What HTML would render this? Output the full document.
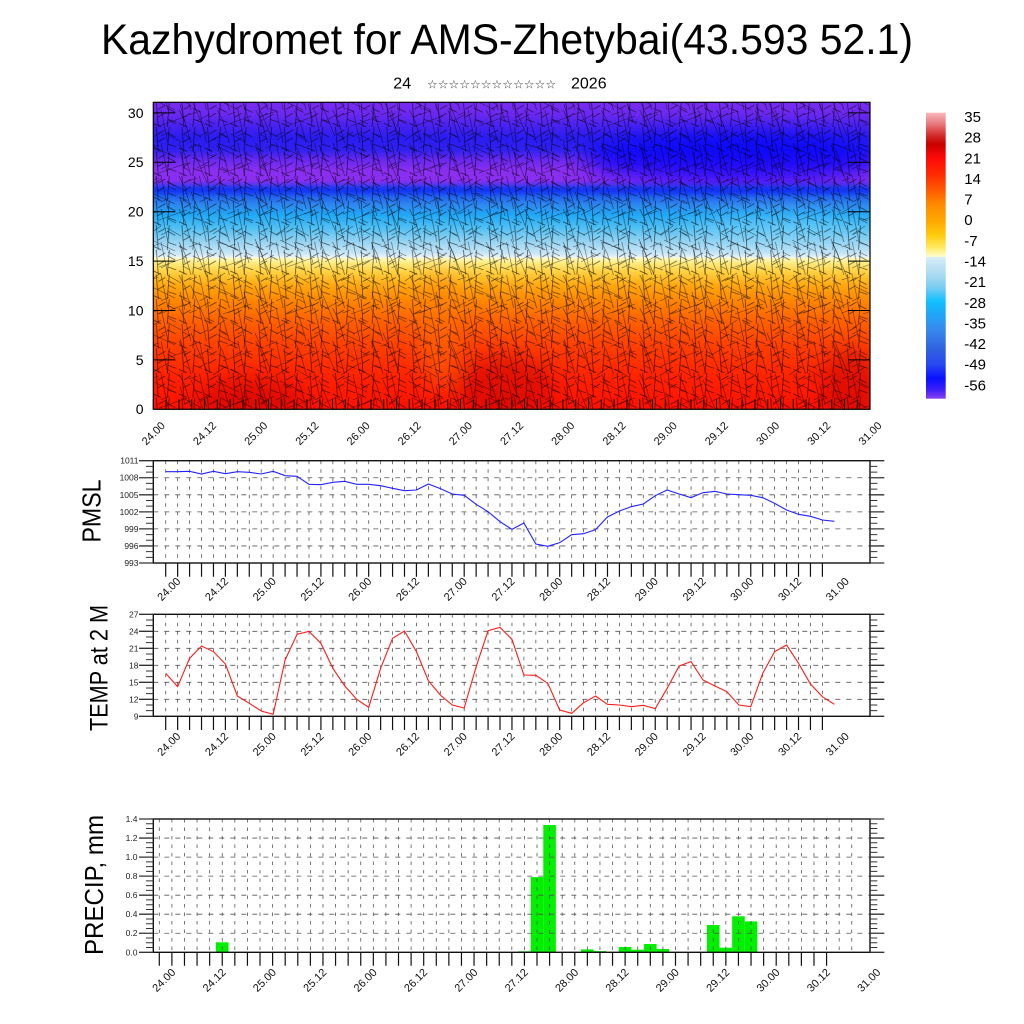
<!DOCTYPE html>
<html><head><meta charset="utf-8">
<style>
html,body{margin:0;padding:0;background:#fff;}
svg{display:block;font-family:"Liberation Sans","DejaVu Sans",sans-serif;}
.xl text{font-size:11px;text-anchor:middle;fill:#111;}
.yl text{font-size:8.5px;text-anchor:end;fill:#222;}
</style></head>
<body>
<svg width="1024" height="1024" viewBox="0 0 1024 1024" xmlns="http://www.w3.org/2000/svg">
<defs>
<linearGradient id="field" gradientUnits="userSpaceOnUse" x1="0" y1="102.3" x2="0" y2="409.3">
<stop offset="0" stop-color="#7a2cf0"/>
<stop offset="0.041" stop-color="#6a28f0"/>
<stop offset="0.074" stop-color="#4a22f0"/>
<stop offset="0.116" stop-color="#2a1cf2"/>
<stop offset="0.155" stop-color="#3020f0"/>
<stop offset="0.188" stop-color="#6a28f0"/>
<stop offset="0.221" stop-color="#8a2ef0"/>
<stop offset="0.253" stop-color="#8a2ef0"/>
<stop offset="0.272" stop-color="#5a38f0"/>
<stop offset="0.285" stop-color="#1030ff"/>
<stop offset="0.305" stop-color="#2060f0"/>
<stop offset="0.334" stop-color="#2e88f0"/>
<stop offset="0.367" stop-color="#20a8f6"/>
<stop offset="0.409" stop-color="#50c0f4"/>
<stop offset="0.455" stop-color="#98d4f2"/>
<stop offset="0.491" stop-color="#c8e6f6"/>
<stop offset="0.504" stop-color="#e8f4f8"/>
<stop offset="0.507" stop-color="#fffac8"/>
<stop offset="0.523" stop-color="#ffec80"/>
<stop offset="0.553" stop-color="#ffd040"/>
<stop offset="0.596" stop-color="#ffa810"/>
<stop offset="0.645" stop-color="#ff8800"/>
<stop offset="0.71" stop-color="#ff6200"/>
<stop offset="0.791" stop-color="#ff4000"/>
<stop offset="0.889" stop-color="#ff2400"/>
<stop offset="1" stop-color="#ff1000"/>
</linearGradient>
<linearGradient id="cbar" gradientUnits="userSpaceOnUse" x1="0" y1="112.7" x2="0" y2="398.7">
<stop offset="0" stop-color="#f7b8bc"/>
<stop offset="0.04" stop-color="#e8777c"/>
<stop offset="0.08" stop-color="#d42a2a"/>
<stop offset="0.11" stop-color="#c80000"/>
<stop offset="0.16" stop-color="#ff0a0a"/>
<stop offset="0.22" stop-color="#ff2e00"/>
<stop offset="0.27" stop-color="#ff5a00"/>
<stop offset="0.32" stop-color="#ff8a00"/>
<stop offset="0.38" stop-color="#ffa800"/>
<stop offset="0.43" stop-color="#ffcc10"/>
<stop offset="0.47" stop-color="#ffe860"/>
<stop offset="0.503" stop-color="#fffcd0"/>
<stop offset="0.506" stop-color="#d6ecf8"/>
<stop offset="0.56" stop-color="#b0dcf2"/>
<stop offset="0.61" stop-color="#7cccf0"/>
<stop offset="0.66" stop-color="#10c0ff"/>
<stop offset="0.70" stop-color="#20a8f8"/>
<stop offset="0.76" stop-color="#3888ee"/>
<stop offset="0.83" stop-color="#3060e0"/>
<stop offset="0.88" stop-color="#2848f0"/>
<stop offset="0.93" stop-color="#0a10ff"/>
<stop offset="0.97" stop-color="#4020f8"/>
<stop offset="1" stop-color="#8a40f0"/>
</linearGradient>
<pattern id="bA" patternUnits="userSpaceOnUse" x="153.3" y="102.3" width="25.6" height="24.6">
<path d="M3 0L5 24.6M5 7L12 3M4.5 15L11.5 11M16 0L14 24.6M14 6L22 10M14.5 17L23 20M0 21L8 24.6" stroke="#000" stroke-width="0.7" stroke-opacity="0.7" fill="none"/>
</pattern>
<pattern id="bB" patternUnits="userSpaceOnUse" x="159" y="110" width="38.4" height="33">
<path d="M2 0L9 33M9 10L17 14M20 0L26 12L32 33M30 5L38 2M10 22L2 26M24 24L31 28" stroke="#000" stroke-width="0.6" stroke-opacity="0.6" fill="none"/>
</pattern>
<pattern id="bC" patternUnits="userSpaceOnUse" x="147" y="96" width="64" height="47">
<path d="M5 3L28 14M12 30L40 20M44 2L60 40M50 25L63 18M20 38L34 46M2 44L14 36M33 8L38 26" stroke="#000" stroke-width="0.6" stroke-opacity="0.55" fill="none"/>
</pattern>
<filter id="blur" x="-20%" y="-20%" width="140%" height="140%"><feGaussianBlur stdDeviation="10"/></filter>
<filter id="blur2" x="-5%" y="-100%" width="110%" height="300%"><feGaussianBlur stdDeviation="2"/></filter>
<clipPath id="cp"><rect x="153.3" y="102.3" width="716.7" height="307"/></clipPath>
</defs>

<rect width="1024" height="1024" fill="#fff"/>

<!-- Titles -->
<text x="507" y="54" text-anchor="middle" font-size="43" textLength="812" lengthAdjust="spacingAndGlyphs" fill="#000">Kazhydromet for AMS-Zhetybai(43.593 52.1)</text>
<text x="393.3" y="88.5" font-size="16" fill="#000">24</text>
<text x="427" y="88.5" font-size="12" fill="#333" font-family="DejaVu Sans, sans-serif">☆☆☆☆☆☆☆☆☆☆☆☆</text>
<text x="571" y="88.5" font-size="16" fill="#000">2026</text>

<!-- Top panel -->
<g clip-path="url(#cp)">
<rect x="153.3" y="102.3" width="716.7" height="307" fill="url(#field)"/>
<g filter="url(#blur)">
<ellipse cx="735" cy="158" rx="150" ry="24" fill="#0808ff" opacity="0.75"/>
<ellipse cx="250" cy="400" rx="55" ry="22" fill="#c80000" opacity="0.5"/>
<ellipse cx="505" cy="388" rx="50" ry="32" fill="#c80000" opacity="0.5"/>
<ellipse cx="850" cy="385" rx="30" ry="35" fill="#c80000" opacity="0.5"/>
<ellipse cx="440" cy="330" rx="20" ry="60" fill="#ff8000" opacity="0.4"/>
<ellipse cx="780" cy="230" rx="90" ry="15" fill="#80d8ff" opacity="0.4"/>
</g>
<rect x="153.3" y="186" width="716.7" height="6" fill="#1838f0" opacity="0.8" filter="url(#blur2)"/>
<rect x="153.3" y="102.3" width="716.7" height="307" fill="url(#bA)"/>
<rect x="153.3" y="102.3" width="716.7" height="307" fill="url(#bB)"/>
<rect x="153.3" y="102.3" width="716.7" height="307" fill="url(#bC)"/>
</g>
<rect x="153.3" y="102.3" width="716.7" height="307" fill="none" stroke="#000" stroke-width="1.2"/>
<path d="M153.3 409.3v-10m12.8 10v-10m12.8 10v-10m12.8 10v-10m12.8 10v-10m12.8 10v-10m12.8 10v-10m12.8 10v-10m12.8 10v-10m12.8 10v-10m12.8 10v-10m12.8 10v-10m12.8 10v-10m12.8 10v-10m12.8 10v-10m12.8 10v-10m12.8 10v-10m12.8 10v-10m12.8 10v-10m12.8 10v-10m12.8 10v-10m12.8 10v-10m12.8 10v-10m12.8 10v-10m12.8 10v-10m12.8 10v-10m12.8 10v-10m12.8 10v-10m12.8 10v-10m12.8 10v-10m12.8 10v-10m12.8 10v-10m12.8 10v-10m12.8 10v-10m12.8 10v-10m12.8 10v-10m12.8 10v-10m12.8 10v-10m12.8 10v-10m12.8 10v-10m12.8 10v-10m12.8 10v-10m12.8 10v-10m12.8 10v-10m12.8 10v-10m12.8 10v-10m12.8 10v-10m12.8 10v-10m12.8 10v-10m12.8 10v-10m12.8 10v-10m12.8 10v-10m12.8 10v-10m12.8 10v-10m12.8 10v-10m12.8 10v-10" stroke="#000" stroke-width="1" fill="none"/>
<path d="M153.3 112.9h22M153.3 162.3h22M153.3 211.7h22M153.3 261.1h22M153.3 310.5h22M153.3 359.9h22M870 112.9h-22M870 162.3h-22M870 211.7h-22M870 261.1h-22M870 310.5h-22M870 359.9h-22" stroke="#000" stroke-width="1" fill="none"/>
<g font-size="14" text-anchor="end" fill="#000">
<text x="143.5" y="112.9" dy="0.35em">30</text>
<text x="143.5" y="162.3" dy="0.35em">25</text>
<text x="143.5" y="211.7" dy="0.35em">20</text>
<text x="143.5" y="261.1" dy="0.35em">15</text>
<text x="143.5" y="310.5" dy="0.35em">10</text>
<text x="143.5" y="359.9" dy="0.35em">5</text>
<text x="143.5" y="409.3" dy="0.35em">0</text>
</g>
<g class="xl">
<text transform="translate(153.3 433.3) rotate(-45)" dy="0.35em">24.00</text>
<text transform="translate(204.5 433.3) rotate(-45)" dy="0.35em">24.12</text>
<text transform="translate(255.7 433.3) rotate(-45)" dy="0.35em">25.00</text>
<text transform="translate(306.9 433.3) rotate(-45)" dy="0.35em">25.12</text>
<text transform="translate(358.1 433.3) rotate(-45)" dy="0.35em">26.00</text>
<text transform="translate(409.3 433.3) rotate(-45)" dy="0.35em">26.12</text>
<text transform="translate(460.4 433.3) rotate(-45)" dy="0.35em">27.00</text>
<text transform="translate(511.6 433.3) rotate(-45)" dy="0.35em">27.12</text>
<text transform="translate(562.8 433.3) rotate(-45)" dy="0.35em">28.00</text>
<text transform="translate(614.0 433.3) rotate(-45)" dy="0.35em">28.12</text>
<text transform="translate(665.2 433.3) rotate(-45)" dy="0.35em">29.00</text>
<text transform="translate(716.4 433.3) rotate(-45)" dy="0.35em">29.12</text>
<text transform="translate(767.6 433.3) rotate(-45)" dy="0.35em">30.00</text>
<text transform="translate(818.8 433.3) rotate(-45)" dy="0.35em">30.12</text>
<text transform="translate(870.0 433.3) rotate(-45)" dy="0.35em">31.00</text>
</g>

<!-- Colorbar -->
<rect x="926" y="112.7" width="19.7" height="286" fill="url(#cbar)"/>
<g font-size="15" fill="#000">
<text x="964.3" y="116.7" dy="0.35em">35</text>
<text x="964.3" y="137.3" dy="0.35em">28</text>
<text x="964.3" y="158.0" dy="0.35em">21</text>
<text x="964.3" y="178.6" dy="0.35em">14</text>
<text x="964.3" y="199.3" dy="0.35em">7</text>
<text x="964.3" y="219.9" dy="0.35em">0</text>
<text x="964.3" y="240.5" dy="0.35em">-7</text>
<text x="964.3" y="261.2" dy="0.35em">-14</text>
<text x="964.3" y="281.8" dy="0.35em">-21</text>
<text x="964.3" y="302.5" dy="0.35em">-28</text>
<text x="964.3" y="323.1" dy="0.35em">-35</text>
<text x="964.3" y="343.7" dy="0.35em">-42</text>
<text x="964.3" y="364.4" dy="0.35em">-49</text>
<text x="964.3" y="385.0" dy="0.35em">-56</text>
</g>

<!-- PMSL panel -->
<path d="M153.3 477.75H870M153.3 494.8H870M153.3 511.85H870M153.3 528.9H870M153.3 545.95H870" stroke="#555" stroke-width="0.8" stroke-dasharray="5 6" fill="none"/>
<path d="M165.7 460.7v102.3m11.94-102.3v102.3m11.94-102.3v102.3m11.94-102.3v102.3m11.94-102.3v102.3m11.94-102.3v102.3m11.94-102.3v102.3m11.94-102.3v102.3m11.94-102.3v102.3m11.94-102.3v102.3m11.94-102.3v102.3m11.94-102.3v102.3m11.94-102.3v102.3m11.94-102.3v102.3m11.94-102.3v102.3m11.94-102.3v102.3m11.94-102.3v102.3m11.94-102.3v102.3m11.94-102.3v102.3m11.94-102.3v102.3m11.94-102.3v102.3m11.94-102.3v102.3m11.94-102.3v102.3m11.94-102.3v102.3m11.94-102.3v102.3m11.94-102.3v102.3m11.94-102.3v102.3m11.94-102.3v102.3m11.94-102.3v102.3m11.94-102.3v102.3m11.94-102.3v102.3m11.94-102.3v102.3m11.94-102.3v102.3m11.94-102.3v102.3m11.94-102.3v102.3m11.94-102.3v102.3m11.94-102.3v102.3m11.94-102.3v102.3m11.94-102.3v102.3m11.94-102.3v102.3m11.94-102.3v102.3m11.94-102.3v102.3m11.94-102.3v102.3m11.94-102.3v102.3m11.94-102.3v102.3m11.94-102.3v102.3m11.94-102.3v102.3m11.94-102.3v102.3m11.94-102.3v102.3m11.94-102.3v102.3m11.94-102.3v102.3m11.94-102.3v102.3m11.94-102.3v102.3m11.94-102.3v102.3m11.94-102.3v102.3m11.94-102.3v102.3" stroke="#555" stroke-width="0.8" stroke-dasharray="3.5 5" fill="none"/>
<polyline transform="translate(165.7 455) scale(11.94 0.333333)" vector-effect="non-scaling-stroke" fill="none" stroke="#2222ff" stroke-width="1.1" points="0,50 1,50 2,49 3,57 4,49 5,56 6,50 7,52 8,57 9,49 10,62 11,64 12,88 13,89 14,82 15,79 16,88 17,88 18,92 19,100 20,107 21,105 22,87 23,101 24,117 25,121 26,148 27,170 28,200 29,223 30,204 31,267 32,274 33,263 34,239 35,236 36,224 37,186 38,168 39,155 40,147 41,122 42,105 43,117 44,128 45,113 46,109 47,117 48,119 49,121 50,128 51,145 52,165 53,178 54,184 55,195 56,199"/>
<rect x="153.3" y="460.7" width="716.7" height="102.3" fill="none" stroke="#111" stroke-width="1.4"/>
<path d="M139 460.7h14.3M139 477.75h14.3M139 494.8h14.3M139 511.85h14.3M139 528.9h14.3M139 545.95h14.3M139 563h14.3M870 460.7h14.3M870 477.75h14.3M870 494.8h14.3M870 511.85h14.3M870 528.9h14.3M870 545.95h14.3M870 563h14.3" stroke="#333" stroke-width="1.3" fill="none"/>
<path d="M146 466.38h7.3M146 472.07h7.3M146 483.43h7.3M146 489.12h7.3M146 500.48h7.3M146 506.17h7.3M146 517.53h7.3M146 523.22h7.3M146 534.58h7.3M146 540.27h7.3M146 551.63h7.3M146 557.32h7.3M870 466.38h7.3M870 472.07h7.3M870 483.43h7.3M870 489.12h7.3M870 500.48h7.3M870 506.17h7.3M870 517.53h7.3M870 523.22h7.3M870 534.58h7.3M870 540.27h7.3M870 551.63h7.3M870 557.32h7.3" stroke="#333" stroke-width="1" fill="none"/>
<path d="M165.7 563v13.7m11.94-13.7v13.7m11.94-13.7v13.7m11.94-13.7v13.7m11.94-13.7v13.7m11.94-13.7v13.7m11.94-13.7v13.7m11.94-13.7v13.7m11.94-13.7v13.7m11.94-13.7v13.7m11.94-13.7v13.7m11.94-13.7v13.7m11.94-13.7v13.7m11.94-13.7v13.7m11.94-13.7v13.7m11.94-13.7v13.7m11.94-13.7v13.7m11.94-13.7v13.7m11.94-13.7v13.7m11.94-13.7v13.7m11.94-13.7v13.7m11.94-13.7v13.7m11.94-13.7v13.7m11.94-13.7v13.7m11.94-13.7v13.7m11.94-13.7v13.7m11.94-13.7v13.7m11.94-13.7v13.7m11.94-13.7v13.7m11.94-13.7v13.7m11.94-13.7v13.7m11.94-13.7v13.7m11.94-13.7v13.7m11.94-13.7v13.7m11.94-13.7v13.7m11.94-13.7v13.7m11.94-13.7v13.7m11.94-13.7v13.7m11.94-13.7v13.7m11.94-13.7v13.7m11.94-13.7v13.7m11.94-13.7v13.7m11.94-13.7v13.7m11.94-13.7v13.7m11.94-13.7v13.7m11.94-13.7v13.7m11.94-13.7v13.7m11.94-13.7v13.7m11.94-13.7v13.7m11.94-13.7v13.7m11.94-13.7v13.7m11.94-13.7v13.7m11.94-13.7v13.7m11.94-13.7v13.7m11.94-13.7v13.7m11.94-13.7v13.7" stroke="#111" stroke-width="1.2" fill="none"/>
<g class="yl">
<text x="138.5" y="460.7" dy="0.35em">1011</text>
<text x="138.5" y="477.75" dy="0.35em">1008</text>
<text x="138.5" y="494.8" dy="0.35em">1005</text>
<text x="138.5" y="511.85" dy="0.35em">1002</text>
<text x="138.5" y="528.9" dy="0.35em">999</text>
<text x="138.5" y="545.95" dy="0.35em">996</text>
<text x="138.5" y="563" dy="0.35em">993</text>
</g>
<g class="xl">
<text transform="translate(168.7 589) rotate(-45)" dy="0.35em">24.00</text>
<text transform="translate(216.5 589) rotate(-45)" dy="0.35em">24.12</text>
<text transform="translate(264.2 589) rotate(-45)" dy="0.35em">25.00</text>
<text transform="translate(312.0 589) rotate(-45)" dy="0.35em">25.12</text>
<text transform="translate(359.7 589) rotate(-45)" dy="0.35em">26.00</text>
<text transform="translate(407.5 589) rotate(-45)" dy="0.35em">26.12</text>
<text transform="translate(455.3 589) rotate(-45)" dy="0.35em">27.00</text>
<text transform="translate(503.0 589) rotate(-45)" dy="0.35em">27.12</text>
<text transform="translate(550.8 589) rotate(-45)" dy="0.35em">28.00</text>
<text transform="translate(598.5 589) rotate(-45)" dy="0.35em">28.12</text>
<text transform="translate(646.3 589) rotate(-45)" dy="0.35em">29.00</text>
<text transform="translate(694.1 589) rotate(-45)" dy="0.35em">29.12</text>
<text transform="translate(741.8 589) rotate(-45)" dy="0.35em">30.00</text>
<text transform="translate(789.6 589) rotate(-45)" dy="0.35em">30.12</text>
<text transform="translate(837.3 589) rotate(-45)" dy="0.35em">31.00</text>
</g>
<text transform="translate(100.5 511) rotate(-90)" text-anchor="middle" font-size="26" textLength="63" lengthAdjust="spacingAndGlyphs" fill="#000">PMSL</text>

<!-- TEMP panel -->
<path d="M153.3 631.3H870M153.3 648.3H870M153.3 665.3H870M153.3 682.3H870M153.3 699.3H870" stroke="#555" stroke-width="0.8" stroke-dasharray="5 6" fill="none"/>
<path d="M165.7 614.3v102m11.94-102v102m11.94-102v102m11.94-102v102m11.94-102v102m11.94-102v102m11.94-102v102m11.94-102v102m11.94-102v102m11.94-102v102m11.94-102v102m11.94-102v102m11.94-102v102m11.94-102v102m11.94-102v102m11.94-102v102m11.94-102v102m11.94-102v102m11.94-102v102m11.94-102v102m11.94-102v102m11.94-102v102m11.94-102v102m11.94-102v102m11.94-102v102m11.94-102v102m11.94-102v102m11.94-102v102m11.94-102v102m11.94-102v102m11.94-102v102m11.94-102v102m11.94-102v102m11.94-102v102m11.94-102v102m11.94-102v102m11.94-102v102m11.94-102v102m11.94-102v102m11.94-102v102m11.94-102v102m11.94-102v102m11.94-102v102m11.94-102v102m11.94-102v102m11.94-102v102m11.94-102v102m11.94-102v102m11.94-102v102m11.94-102v102m11.94-102v102m11.94-102v102m11.94-102v102m11.94-102v102m11.94-102v102m11.94-102v102" stroke="#555" stroke-width="0.8" stroke-dasharray="3.5 5" fill="none"/>
<polyline transform="translate(165.7 610) scale(11.94 0.333333)" vector-effect="non-scaling-stroke" fill="none" stroke="#ff1a1a" stroke-width="1.1" points="0,190 1,230 2,145 3,108 4,125 5,162 6,258 7,280 8,303 9,313 10,150 11,73 12,64 13,100 14,175 15,228 16,268 17,292 18,175 19,85 20,63 21,125 22,212 23,255 24,285 25,294 26,170 27,62 28,52 29,88 30,195 31,196 32,220 33,300 34,310 35,278 36,258 37,283 38,285 39,290 40,286 41,296 42,235 43,168 44,155 45,210 46,228 47,245 48,285 49,290 50,190 51,125 52,105 53,160 54,222 55,260 56,283"/>
<rect x="153.3" y="614.3" width="716.7" height="102" fill="none" stroke="#111" stroke-width="1.4"/>
<path d="M139 614.3h14.3M139 631.3h14.3M139 648.3h14.3M139 665.3h14.3M139 682.3h14.3M139 699.3h14.3M139 716.3h14.3M870 614.3h14.3M870 631.3h14.3M870 648.3h14.3M870 665.3h14.3M870 682.3h14.3M870 699.3h14.3M870 716.3h14.3" stroke="#333" stroke-width="1.3" fill="none"/>
<path d="M146 619.97h7.3M146 625.63h7.3M146 636.97h7.3M146 642.63h7.3M146 653.97h7.3M146 659.63h7.3M146 670.97h7.3M146 676.63h7.3M146 687.97h7.3M146 693.63h7.3M146 704.97h7.3M146 710.63h7.3M870 619.97h7.3M870 625.63h7.3M870 636.97h7.3M870 642.63h7.3M870 653.97h7.3M870 659.63h7.3M870 670.97h7.3M870 676.63h7.3M870 687.97h7.3M870 693.63h7.3M870 704.97h7.3M870 710.63h7.3" stroke="#333" stroke-width="1" fill="none"/>
<path d="M165.7 716.3v13.7m11.94-13.7v13.7m11.94-13.7v13.7m11.94-13.7v13.7m11.94-13.7v13.7m11.94-13.7v13.7m11.94-13.7v13.7m11.94-13.7v13.7m11.94-13.7v13.7m11.94-13.7v13.7m11.94-13.7v13.7m11.94-13.7v13.7m11.94-13.7v13.7m11.94-13.7v13.7m11.94-13.7v13.7m11.94-13.7v13.7m11.94-13.7v13.7m11.94-13.7v13.7m11.94-13.7v13.7m11.94-13.7v13.7m11.94-13.7v13.7m11.94-13.7v13.7m11.94-13.7v13.7m11.94-13.7v13.7m11.94-13.7v13.7m11.94-13.7v13.7m11.94-13.7v13.7m11.94-13.7v13.7m11.94-13.7v13.7m11.94-13.7v13.7m11.94-13.7v13.7m11.94-13.7v13.7m11.94-13.7v13.7m11.94-13.7v13.7m11.94-13.7v13.7m11.94-13.7v13.7m11.94-13.7v13.7m11.94-13.7v13.7m11.94-13.7v13.7m11.94-13.7v13.7m11.94-13.7v13.7m11.94-13.7v13.7m11.94-13.7v13.7m11.94-13.7v13.7m11.94-13.7v13.7m11.94-13.7v13.7m11.94-13.7v13.7m11.94-13.7v13.7m11.94-13.7v13.7m11.94-13.7v13.7m11.94-13.7v13.7m11.94-13.7v13.7m11.94-13.7v13.7m11.94-13.7v13.7m11.94-13.7v13.7m11.94-13.7v13.7" stroke="#111" stroke-width="1.2" fill="none"/>
<g class="yl">
<text x="138.5" y="614.3" dy="0.35em">27</text>
<text x="138.5" y="631.3" dy="0.35em">24</text>
<text x="138.5" y="648.3" dy="0.35em">21</text>
<text x="138.5" y="665.3" dy="0.35em">18</text>
<text x="138.5" y="682.3" dy="0.35em">15</text>
<text x="138.5" y="699.3" dy="0.35em">12</text>
<text x="138.5" y="716.3" dy="0.35em">9</text>
</g>
<g class="xl">
<text transform="translate(168.7 744) rotate(-45)" dy="0.35em">24.00</text>
<text transform="translate(216.5 744) rotate(-45)" dy="0.35em">24.12</text>
<text transform="translate(264.2 744) rotate(-45)" dy="0.35em">25.00</text>
<text transform="translate(312.0 744) rotate(-45)" dy="0.35em">25.12</text>
<text transform="translate(359.7 744) rotate(-45)" dy="0.35em">26.00</text>
<text transform="translate(407.5 744) rotate(-45)" dy="0.35em">26.12</text>
<text transform="translate(455.3 744) rotate(-45)" dy="0.35em">27.00</text>
<text transform="translate(503.0 744) rotate(-45)" dy="0.35em">27.12</text>
<text transform="translate(550.8 744) rotate(-45)" dy="0.35em">28.00</text>
<text transform="translate(598.5 744) rotate(-45)" dy="0.35em">28.12</text>
<text transform="translate(646.3 744) rotate(-45)" dy="0.35em">29.00</text>
<text transform="translate(694.1 744) rotate(-45)" dy="0.35em">29.12</text>
<text transform="translate(741.8 744) rotate(-45)" dy="0.35em">30.00</text>
<text transform="translate(789.6 744) rotate(-45)" dy="0.35em">30.12</text>
<text transform="translate(837.3 744) rotate(-45)" dy="0.35em">31.00</text>
</g>
<text transform="translate(107.5 668) rotate(-90)" text-anchor="middle" font-size="25" textLength="126" lengthAdjust="spacingAndGlyphs" fill="#000">TEMP at 2 M</text>

<!-- PRECIP panel -->
<g fill="#00f000">
<rect x="215.96" y="942.3" width="12.59" height="10"/>
<rect x="518.12" y="951.3" width="12.59" height="1"/>
<rect x="530.71" y="877.1" width="12.59" height="75.2"/>
<rect x="543.30" y="825.0" width="12.59" height="127.3"/>
<rect x="581.07" y="949.4" width="12.59" height="2.9"/>
<rect x="593.66" y="951.1" width="12.59" height="1.2"/>
<rect x="618.84" y="947.0" width="12.59" height="5.3"/>
<rect x="631.43" y="949.7" width="12.59" height="2.6"/>
<rect x="644.02" y="944.0" width="12.59" height="8.3"/>
<rect x="656.61" y="949.0" width="12.59" height="3.3"/>
<rect x="706.97" y="925.0" width="12.59" height="27.3"/>
<rect x="719.56" y="947.7" width="12.59" height="4.6"/>
<rect x="732.15" y="916.3" width="12.59" height="36"/>
<rect x="744.74" y="921.4" width="12.59" height="30.9"/>
</g>
<path d="M153.3 838.04H870M153.3 857.09H870M153.3 876.13H870M153.3 895.17H870M153.3 914.21H870M153.3 933.26H870" stroke="#555" stroke-width="0.8" stroke-dasharray="5 6" fill="none"/>
<path d="M159.3 819v133.3m12.59-133.3v133.3m12.59-133.3v133.3m12.59-133.3v133.3m12.59-133.3v133.3m12.59-133.3v133.3m12.59-133.3v133.3m12.59-133.3v133.3m12.59-133.3v133.3m12.59-133.3v133.3m12.59-133.3v133.3m12.59-133.3v133.3m12.59-133.3v133.3m12.59-133.3v133.3m12.59-133.3v133.3m12.59-133.3v133.3m12.59-133.3v133.3m12.59-133.3v133.3m12.59-133.3v133.3m12.59-133.3v133.3m12.59-133.3v133.3m12.59-133.3v133.3m12.59-133.3v133.3m12.59-133.3v133.3m12.59-133.3v133.3m12.59-133.3v133.3m12.59-133.3v133.3m12.59-133.3v133.3m12.59-133.3v133.3m12.59-133.3v133.3m12.59-133.3v133.3m12.59-133.3v133.3m12.59-133.3v133.3m12.59-133.3v133.3m12.59-133.3v133.3m12.59-133.3v133.3m12.59-133.3v133.3m12.59-133.3v133.3m12.59-133.3v133.3m12.59-133.3v133.3m12.59-133.3v133.3m12.59-133.3v133.3m12.59-133.3v133.3m12.59-133.3v133.3m12.59-133.3v133.3m12.59-133.3v133.3m12.59-133.3v133.3m12.59-133.3v133.3m12.59-133.3v133.3m12.59-133.3v133.3m12.59-133.3v133.3m12.59-133.3v133.3m12.59-133.3v133.3m12.59-133.3v133.3m12.59-133.3v133.3m12.59-133.3v133.3" stroke="#555" stroke-width="0.8" stroke-dasharray="3.5 5" fill="none"/>
<rect x="153.3" y="819" width="716.7" height="133.3" fill="none" stroke="#111" stroke-width="1.4"/>
<path d="M139 819h14.3M139 838.04h14.3M139 857.09h14.3M139 876.13h14.3M139 895.17h14.3M139 914.21h14.3M139 933.26h14.3M139 952.3h14.3M870 819h14.3M870 838.04h14.3M870 857.09h14.3M870 876.13h14.3M870 895.17h14.3M870 914.21h14.3M870 933.26h14.3M870 952.3h14.3" stroke="#333" stroke-width="1.3" fill="none"/>
<path d="M146 823.76h7.3M146 828.52h7.3M146 833.28h7.3M146 842.80h7.3M146 847.57h7.3M146 852.33h7.3M146 861.85h7.3M146 866.61h7.3M146 871.37h7.3M146 880.89h7.3M146 885.65h7.3M146 890.41h7.3M146 899.93h7.3M146 904.69h7.3M146 909.45h7.3M146 918.97h7.3M146 923.74h7.3M146 928.50h7.3M146 938.02h7.3M146 942.78h7.3M146 947.54h7.3M870 823.76h7.3M870 828.52h7.3M870 833.28h7.3M870 842.80h7.3M870 847.57h7.3M870 852.33h7.3M870 861.85h7.3M870 866.61h7.3M870 871.37h7.3M870 880.89h7.3M870 885.65h7.3M870 890.41h7.3M870 899.93h7.3M870 904.69h7.3M870 909.45h7.3M870 918.97h7.3M870 923.74h7.3M870 928.50h7.3M870 938.02h7.3M870 942.78h7.3M870 947.54h7.3" stroke="#333" stroke-width="1" fill="none"/>
<path d="M159.3 952.3v13.5m12.59-13.5v13.5m12.59-13.5v13.5m12.59-13.5v13.5m12.59-13.5v13.5m12.59-13.5v13.5m12.59-13.5v13.5m12.59-13.5v13.5m12.59-13.5v13.5m12.59-13.5v13.5m12.59-13.5v13.5m12.59-13.5v13.5m12.59-13.5v13.5m12.59-13.5v13.5m12.59-13.5v13.5m12.59-13.5v13.5m12.59-13.5v13.5m12.59-13.5v13.5m12.59-13.5v13.5m12.59-13.5v13.5m12.59-13.5v13.5m12.59-13.5v13.5m12.59-13.5v13.5m12.59-13.5v13.5m12.59-13.5v13.5m12.59-13.5v13.5m12.59-13.5v13.5m12.59-13.5v13.5m12.59-13.5v13.5m12.59-13.5v13.5m12.59-13.5v13.5m12.59-13.5v13.5m12.59-13.5v13.5m12.59-13.5v13.5m12.59-13.5v13.5m12.59-13.5v13.5m12.59-13.5v13.5m12.59-13.5v13.5m12.59-13.5v13.5m12.59-13.5v13.5m12.59-13.5v13.5m12.59-13.5v13.5m12.59-13.5v13.5m12.59-13.5v13.5m12.59-13.5v13.5m12.59-13.5v13.5m12.59-13.5v13.5m12.59-13.5v13.5m12.59-13.5v13.5m12.59-13.5v13.5m12.59-13.5v13.5m12.59-13.5v13.5m12.59-13.5v13.5m12.59-13.5v13.5" stroke="#111" stroke-width="1.2" fill="none"/>
<g class="yl">
<text x="137.5" y="819" dy="0.35em">1.4</text>
<text x="137.5" y="838.04" dy="0.35em">1.2</text>
<text x="137.5" y="857.09" dy="0.35em">1.0</text>
<text x="137.5" y="876.13" dy="0.35em">0.8</text>
<text x="137.5" y="895.17" dy="0.35em">0.6</text>
<text x="137.5" y="914.21" dy="0.35em">0.4</text>
<text x="137.5" y="933.26" dy="0.35em">0.2</text>
<text x="137.5" y="952.3" dy="0.35em">0.0</text>
</g>
<g class="xl">
<text transform="translate(163.7 980) rotate(-45)" dy="0.35em">24.00</text>
<text transform="translate(214.1 980) rotate(-45)" dy="0.35em">24.12</text>
<text transform="translate(264.4 980) rotate(-45)" dy="0.35em">25.00</text>
<text transform="translate(314.8 980) rotate(-45)" dy="0.35em">25.12</text>
<text transform="translate(365.1 980) rotate(-45)" dy="0.35em">26.00</text>
<text transform="translate(415.5 980) rotate(-45)" dy="0.35em">26.12</text>
<text transform="translate(465.9 980) rotate(-45)" dy="0.35em">27.00</text>
<text transform="translate(516.2 980) rotate(-45)" dy="0.35em">27.12</text>
<text transform="translate(566.6 980) rotate(-45)" dy="0.35em">28.00</text>
<text transform="translate(616.9 980) rotate(-45)" dy="0.35em">28.12</text>
<text transform="translate(667.3 980) rotate(-45)" dy="0.35em">29.00</text>
<text transform="translate(717.7 980) rotate(-45)" dy="0.35em">29.12</text>
<text transform="translate(768.0 980) rotate(-45)" dy="0.35em">30.00</text>
<text transform="translate(818.4 980) rotate(-45)" dy="0.35em">30.12</text>
<text transform="translate(868.7 980) rotate(-45)" dy="0.35em">31.00</text>
</g>
<text transform="translate(103 885) rotate(-90)" text-anchor="middle" font-size="26" textLength="140" lengthAdjust="spacingAndGlyphs" fill="#000">PRECIP, mm</text>
</svg>
</body></html>
